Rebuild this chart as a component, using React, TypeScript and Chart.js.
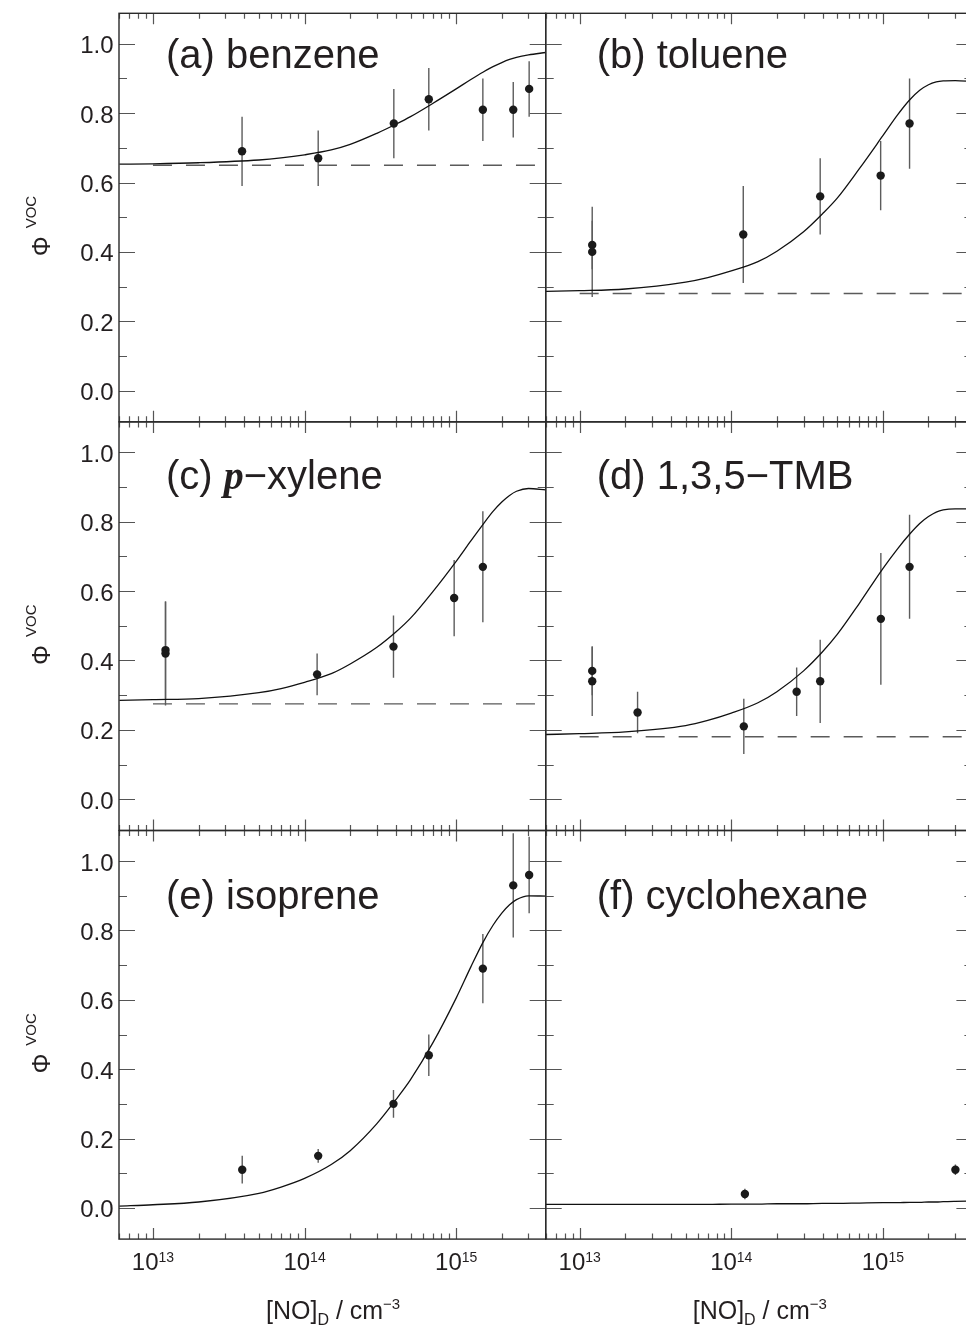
import React, { useEffect, useRef } from "react";
import { Chart, registerables } from "chart.js";

Chart.register(...registerables);

// ---------------- data ----------------
// measured points: [NO]_D (cm^-3), Phi, error
const xA = [3.87e13, 1.23e14, 3.88e14, 6.6e14, 1.5e15, 2.38e15, 3.03e15];
const yA = [0.69, 0.67, 0.77, 0.84, 0.81, 0.81, 0.87];
const eA = [0.1, 0.08, 0.1, 0.09, 0.09, 0.08, 0.08];
const baseA = 0.65;

const xB = [1.21e13, 1.21e13, 1.2e14, 3.86e14, 9.67e14, 1.5e15];
const yB = [0.42, 0.4, 0.45, 0.56, 0.62, 0.77];
const eB = [0.07, 0.13, 0.14, 0.11, 0.1, 0.13];
const baseB = 0.28;

const xC = [1.21e13, 1.21e13, 1.21e14, 3.86e14, 9.7e14, 1.5e15];
const yC = [0.43, 0.42, 0.36, 0.44, 0.58, 0.67];
const eC = [0.14, 0.15, 0.06, 0.09, 0.11, 0.16];
const baseC = 0.275;

const xD = [1.21e13, 1.21e13, 2.41e13, 1.21e14, 2.7e14, 3.86e14, 9.7e14, 1.5e15];
const yD = [0.37, 0.34, 0.25, 0.21, 0.31, 0.34, 0.52, 0.67];
const eD = [0.07, 0.1, 0.06, 0.08, 0.07, 0.12, 0.19, 0.15];
const baseD = 0.18;

const xE = [3.88e13, 1.23e14, 3.86e14, 6.6e14, 1.5e15, 2.38e15, 3.03e15];
const yE = [0.11, 0.15, 0.3, 0.44, 0.69, 0.93, 0.96];
const eE = [0.04, 0.02, 0.04, 0.06, 0.1, 0.15, 0.11];

const xF = [1.23e14, 3.01e15];
const yF = [0.04, 0.11];
const eF = [0.015, 0.015];

// model curves at these [NO]_D values
const curveX = [
  6e12, 1e13, 2e13, 5e13, 7e13, 1e14, 1.5e14, 2e14, 3e14, 4e14, 5e14, 7e14,
  1e15, 1.25e15, 1.5e15, 1.75e15, 2e15, 2.25e15, 2.5e15, 3e15, 3.9e15,
];
const curveA = [
  0.653, 0.654, 0.657, 0.665, 0.671, 0.68, 0.694, 0.71, 0.742, 0.768, 0.79, 0.828,
  0.87, 0.897, 0.918, 0.934, 0.946, 0.955, 0.961, 0.968, 0.975,
];
const curveB = [
  0.286, 0.288, 0.293, 0.313, 0.326, 0.345, 0.372, 0.402, 0.458, 0.51, 0.555, 0.64,
  0.735, 0.795, 0.838, 0.866, 0.882, 0.89, 0.893, 0.894, 0.891,
];
const curveC = [
  0.285, 0.287, 0.29, 0.307, 0.319, 0.337, 0.362, 0.39, 0.438, 0.482, 0.522, 0.598,
  0.686, 0.745, 0.792, 0.83, 0.857, 0.876, 0.888, 0.896, 0.892,
];
const curveD = [
  0.1865, 0.189, 0.194, 0.212, 0.227, 0.248, 0.278, 0.31, 0.37, 0.425, 0.475, 0.565,
  0.665, 0.722, 0.764, 0.795, 0.815, 0.828, 0.834, 0.837, 0.837,
];
const curveE = [
  0.005, 0.009, 0.017, 0.042, 0.06, 0.085, 0.125, 0.165, 0.243, 0.312, 0.37, 0.475,
  0.605, 0.695, 0.765, 0.815, 0.85, 0.874, 0.889, 0.9, 0.899,
];
const curveF = [
  0.01, 0.01, 0.01, 0.01, 0.01, 0.011, 0.011, 0.012, 0.012, 0.013, 0.013, 0.014,
  0.015, 0.015, 0.016, 0.016, 0.017, 0.017, 0.018, 0.019, 0.02,
];

// axis ranges
const X_MIN = 5.97e12;
const X_MAX = 3.896e15;
const Y_MIN = -0.09;
const Y_MAX = 1.088;
const Y_LABELS = ["0.0", "0.2", "0.4", "0.6", "0.8", "1.0"];
const X_LABEL_EXPS = ["13", "14", "15"];

// ---------------- layout / style ----------------
const W = 980;
const H = 1326;
const COL_LEFT = [119, 545.7];
const COL_W = 426.7;
const ROW_TOP = [13.3, 421.9, 830.6];
const ROW_H = 408.5;

const SANS = "'Liberation Sans', Arial, Helvetica, sans-serif";
const SERIF = "'Liberation Serif', 'Times New Roman', serif";
const INK = "#231f20";
const AXIS = "#2a2a2a";
const TICK = "#555555";
const ERR = "#5c5c5c";

type Seg = { t: string; font: string; dy?: number };

interface PanelDef {
  col: number;
  row: number;
  xs: number[];
  ys: number[];
  es: number[];
  base?: number;
  curve: number[];
  title: Seg[];
  tdx: number;
  tdy: number;
}

const T40 = `40px ${SANS}`;

const PANELS: PanelDef[] = [
  { col: 0, row: 0, xs: xA, ys: yA, es: eA, base: baseA, curve: curveA, title: [{ t: "(a) benzene", font: T40 }], tdx: 47, tdy: 54.7 },
  { col: 1, row: 0, xs: xB, ys: yB, es: eB, base: baseB, curve: curveB, title: [{ t: "(b) toluene", font: T40 }], tdx: 51, tdy: 54.7 },
  {
    col: 0, row: 1, xs: xC, ys: yC, es: eC, base: baseC, curve: curveC,
    title: [
      { t: "(c) ", font: T40 },
      { t: "p", font: `italic bold 40px ${SERIF}` },
      { t: "\u2212xylene", font: T40 },
    ],
    tdx: 47, tdy: 67,
  },
  { col: 1, row: 1, xs: xD, ys: yD, es: eD, base: baseD, curve: curveD, title: [{ t: "(d) 1,3,5\u2212TMB", font: T40 }], tdx: 51, tdy: 67 },
  { col: 0, row: 2, xs: xE, ys: yE, es: eE, curve: curveE, title: [{ t: "(e) isoprene", font: T40 }], tdx: 47, tdy: 78.4 },
  { col: 1, row: 2, xs: xF, ys: yF, es: eF, curve: curveF, title: [{ t: "(f) cyclohexane", font: T40 }], tdx: 51, tdy: 78.4 },
];

const errorBarPlugin = {
  id: "errorBars",
  beforeDatasetsDraw(chart: any) {
    const { ctx, chartArea } = chart;
    const xs = chart.scales.x;
    const ys = chart.scales.y;
    ctx.save();
    ctx.beginPath();
    ctx.rect(chartArea.left, chartArea.top, chartArea.right - chartArea.left, chartArea.bottom - chartArea.top);
    ctx.clip();
    ctx.strokeStyle = ERR;
    ctx.lineWidth = 1.4;
    chart.data.datasets.forEach((ds: any) => {
      if (!ds.errors) return;
      ds.data.forEach((pt: any, i: number) => {
        const e = ds.errors[i];
        const px = xs.getPixelForValue(pt.x);
        ctx.beginPath();
        ctx.moveTo(px, ys.getPixelForValue(pt.y - e));
        ctx.lineTo(px, ys.getPixelForValue(pt.y + e));
        ctx.stroke();
      });
    });
    ctx.restore();
  },
};

function makeFramePlugin(p: PanelDef) {
  return {
    id: "frame",
    afterDatasetsDraw(chart: any) {
      const { ctx, chartArea } = chart;
      const { left, right, top, bottom } = chartArea;
      const xs = chart.scales.x;
      const ys = chart.scales.y;
      ctx.save();

      // inward ticks
      ctx.strokeStyle = TICK;
      ctx.lineWidth = 1.2;
      ctx.beginPath();
      for (let e = 12; e <= 15; e++) {
        for (let m = 1; m <= 9; m++) {
          const v = m * Math.pow(10, e);
          if (v < X_MIN || v > X_MAX) continue;
          const px = Math.round(xs.getPixelForValue(v)) + 0.5;
          const len = m === 1 ? 11 : 5.5;
          ctx.moveTo(px, top);
          ctx.lineTo(px, top + len);
          ctx.moveTo(px, bottom);
          ctx.lineTo(px, bottom - len);
        }
      }
      for (let k = -1; k <= 11; k++) {
        const v = k / 10;
        if (v < Y_MIN || v > Y_MAX) continue;
        const py = Math.round(ys.getPixelForValue(v)) + 0.5;
        const len = k % 2 === 0 ? 16 : 8;
        ctx.moveTo(left, py);
        ctx.lineTo(left + len, py);
        ctx.moveTo(right, py);
        ctx.lineTo(right - len, py);
      }
      ctx.stroke();

      // frame
      ctx.strokeStyle = AXIS;
      ctx.lineWidth = 1.4;
      ctx.strokeRect(left, top, right - left, bottom - top);

      ctx.fillStyle = INK;
      ctx.textBaseline = "alphabetic";

      // panel title
      let tx = left + p.tdx;
      const ty = top + p.tdy;
      ctx.textAlign = "left";
      p.title.forEach((s) => {
        ctx.font = s.font;
        ctx.fillText(s.t, tx, ty + (s.dy || 0));
        tx += ctx.measureText(s.t).width;
      });

      // y tick labels + y title on left column
      if (p.col === 0) {
        ctx.font = `24px ${SANS}`;
        ctx.textAlign = "right";
        Y_LABELS.forEach((lab) => {
          const py = ys.getPixelForValue(parseFloat(lab));
          ctx.fillText(lab, left - 5.5, py + 9.5);
        });
        ctx.save();
        ctx.translate(50, top + 243);
        ctx.rotate(-Math.PI / 2);
        ctx.textAlign = "left";
        ctx.font = `25px ${SANS}`;
        ctx.fillText("\u03A6", 0, 0);
        const wPhi = ctx.measureText("\u03A6").width;
        ctx.font = `15px ${SANS}`;
        ctx.fillText("VOC", wPhi + 8, -14);
        ctx.restore();
      }

      // x tick labels + x title on bottom row
      if (p.row === 2) {
        ctx.textAlign = "left";
        X_LABEL_EXPS.forEach((ex) => {
          const px = xs.getPixelForValue(Math.pow(10, parseInt(ex, 10)));
          ctx.font = `24px ${SANS}`;
          const w1 = ctx.measureText("10").width;
          ctx.font = `14px ${SANS}`;
          const w2 = ctx.measureText(ex).width;
          const sx = px - (w1 + w2) / 2;
          ctx.font = `24px ${SANS}`;
          ctx.fillText("10", sx, bottom + 31);
          ctx.font = `14px ${SANS}`;
          ctx.fillText(ex, sx + w1, bottom + 22.5);
        });
        const segs: Seg[] = [
          { t: "[NO]", font: `25px ${SANS}` },
          { t: "D", font: `16px ${SANS}`, dy: 6 },
          { t: " / cm", font: `25px ${SANS}` },
          { t: "\u22123", font: `15px ${SANS}`, dy: -10 },
        ];
        let x0 = left + 147;
        const y0 = bottom + 80;
        segs.forEach((s) => {
          ctx.font = s.font;
          ctx.fillText(s.t, x0, y0 + (s.dy || 0));
          x0 += ctx.measureText(s.t).width;
        });
      }

      ctx.restore();
    },
  };
}

function PanelChart({ p }: { p: PanelDef }) {
  const ref = useRef<HTMLCanvasElement>(null);
  useEffect(() => {
    const canvas = ref.current;
    if (!canvas) return;
    const left = COL_LEFT[p.col];
    const top = ROW_TOP[p.row];
    const datasets: any[] = [
      {
        type: "scatter",
        data: p.xs.map((x, i) => ({ x, y: p.ys[i] })),
        errors: p.es,
        pointRadius: 4.2,
        pointHoverRadius: 4.2,
        backgroundColor: "#1a1a1a",
        borderWidth: 0,
        pointStyle: "circle",
      },
      {
        type: "line",
        data: curveX.map((x, i) => ({ x, y: p.curve[i] })),
        borderColor: "#111111",
        borderWidth: 1.3,
        pointRadius: 0,
        cubicInterpolationMode: "monotone",
        fill: false,
      },
    ];
    if (p.base !== undefined) {
      datasets.push({
        type: "line",
        data: [
          { x: 1e13, y: p.base },
          { x: 4.2e15, y: p.base },
        ],
        borderColor: "#5a5a5a",
        borderWidth: 1.4,
        borderDash: [19, 14],
        borderCapStyle: "butt",
        pointRadius: 0,
        fill: false,
      });
    }
    const chart = new Chart(canvas, {
      type: "scatter",
      data: { datasets },
      options: {
        responsive: false,
        animation: false,
        devicePixelRatio: 1,
        events: [],
        layout: {
          padding: {
            left,
            top,
            right: W - left - COL_W,
            bottom: H - top - ROW_H,
          },
        },
        scales: {
          x: { type: "logarithmic", min: X_MIN, max: X_MAX, display: false },
          y: { type: "linear", min: Y_MIN, max: Y_MAX, display: false },
        },
        plugins: {
          legend: { display: false },
          tooltip: { enabled: false },
        },
      } as any,
      plugins: [errorBarPlugin, makeFramePlugin(p)],
    } as any);
    return () => chart.destroy();
  }, [p]);
  return (
    <canvas
      ref={ref}
      width={W}
      height={H}
      style={{ position: "absolute", left: 0, top: 0, width: W, height: H }}
    />
  );
}

export default function App() {
  return (
    <div
      style={{
        position: "fixed",
        left: 0,
        top: 0,
        width: 966,
        height: 1326,
        overflow: "hidden",
        background: "#ffffff",
      }}
    >
      {PANELS.map((p, i) => (
        <PanelChart key={i} p={p} />
      ))}
    </div>
  );
}
